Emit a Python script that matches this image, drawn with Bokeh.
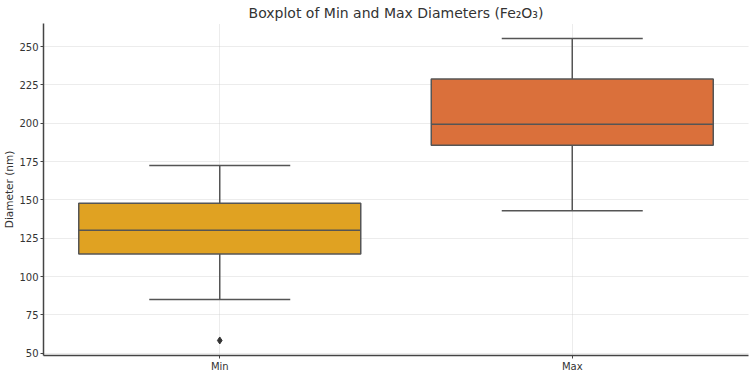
from bokeh.plotting import figure
from bokeh.models import Range1d, FactorRange, ColumnDataSource, FixedTicker
from bokeh.transform import dodge
from bokeh.embed import file_html
from bokeh.resources import INLINE

categories = ["Min", "Max"]
q1 = [114.7, 185.7]
median = [130.3, 199.4]
q3 = [147.9, 228.8]
lower_whisker = [85.1, 142.9]
upper_whisker = [172.5, 255.2]
box_colors = ["#E0A222", "#DA703B"]
outlier_cat = ["Min"]
outlier_val = [58.4]
y_ticks = [50, 75, 100, 125, 150, 175, 200, 225, 250]

src = ColumnDataSource(dict(cat=categories, q1=q1, med=median, q3=q3,
                            lo=lower_whisker, hi=upper_whisker, color=box_colors))
out_src = ColumnDataSource(dict(cat=outlier_cat, val=outlier_val))

p = figure(x_range=FactorRange(factors=categories), y_range=Range1d(48.6, 265.0),
           frame_width=705, frame_height=332, output_backend="svg",
           toolbar_location=None, min_border_left=0, min_border_right=4,
           min_border_top=0, min_border_bottom=0)

p.title.text = "Boxplot of Min and Max Diameters (Fe\u2082O\u2083)"
p.title.align = "center"
p.title.text_font = "DejaVu Sans"
p.title.text_font_style = "normal"
p.title.text_font_size = "14px"
p.title.text_color = "#333333"
p.title.standoff = 5
p.outline_line_color = None
p.background_fill_color = "white"

grid_color = "#cfcfcf"
for g in (p.xgrid, p.ygrid):
    g.grid_line_color = grid_color
    g.grid_line_dash = "1 1"
    g.grid_line_width = 0.8
p.yaxis.ticker = FixedTicker(ticks=y_ticks)

for ax in (p.xaxis, p.yaxis):
    ax.axis_line_color = "#444444"
    ax.axis_line_width = 1.5
    ax.major_tick_line_color = "#444444"
    ax.major_tick_out = 3
    ax.major_tick_in = 0
    ax.minor_tick_line_color = None
    ax.major_label_text_font = "DejaVu Sans"
    ax.major_label_text_font_size = "10px"
    ax.major_label_text_color = "#333333"
    ax.major_label_standoff = 2
p.yaxis.axis_label = "Diameter (nm)"
p.yaxis.axis_label_text_font = "DejaVu Sans"
p.yaxis.axis_label_text_font_size = "10.5px"
p.yaxis.axis_label_text_font_style = "normal"
p.yaxis.axis_label_text_color = "#333333"
p.yaxis.axis_label_standoff = 1

edge = "#555555"
# whiskers
p.segment(x0="cat", y0="q3", x1="cat", y1="hi", source=src, line_color=edge, line_width=1.5)
p.segment(x0="cat", y0="q1", x1="cat", y1="lo", source=src, line_color=edge, line_width=1.5)
# caps
p.segment(x0=dodge("cat", -0.2, range=p.x_range), y0="hi",
          x1=dodge("cat", 0.2, range=p.x_range), y1="hi", source=src, line_color=edge, line_width=1.5)
p.segment(x0=dodge("cat", -0.2, range=p.x_range), y0="lo",
          x1=dodge("cat", 0.2, range=p.x_range), y1="lo", source=src, line_color=edge, line_width=1.5)
# boxes
p.vbar(x="cat", width=0.8, bottom="q1", top="q3", source=src,
       fill_color="color", line_color=edge, line_width=1.5)
# medians
p.segment(x0=dodge("cat", -0.4, range=p.x_range), y0="med",
          x1=dodge("cat", 0.4, range=p.x_range), y1="med", source=src, line_color=edge, line_width=1.5)
# outliers
p.scatter(x="cat", y="val", source=out_src, marker="diamond", size=7,
          fill_color="#333333", line_color="#333333")

open("out.html", "w").write(file_html(p, INLINE))
